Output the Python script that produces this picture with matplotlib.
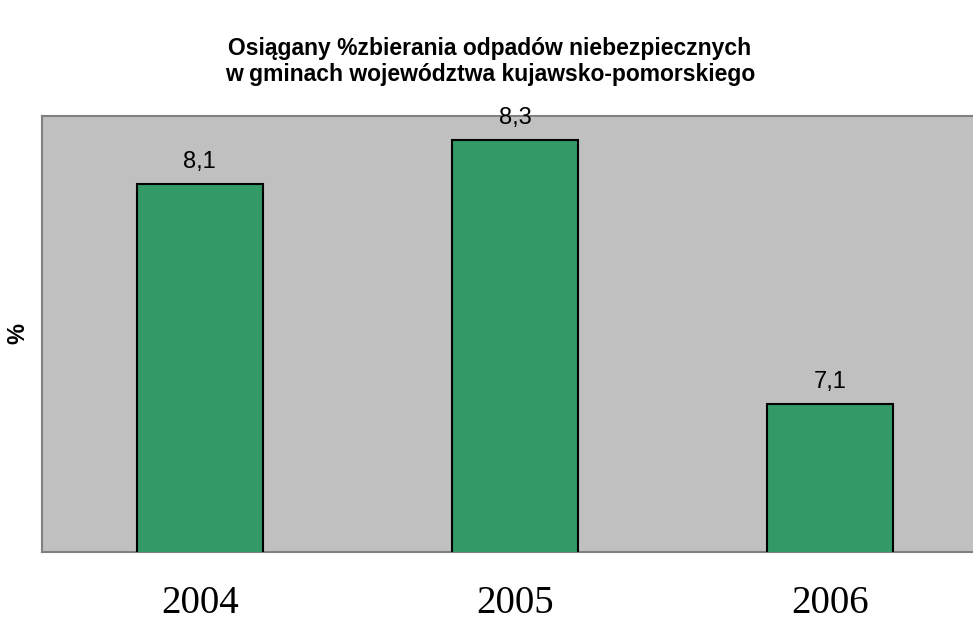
import matplotlib
matplotlib.use("Agg")
import matplotlib.pyplot as plt

years = ["2004", "2005", "2006"]
values = [8.1, 8.3, 7.1]
labels = ["8,1", "8,3", "7,1"]
title_lines = ["Osiągany %zbierania odpadów niebezpiecznych",
               "w gminach województwa kujawsko-pomorskiego"]

W, H = 973, 635
fig = plt.figure(figsize=(W/100, H/100), dpi=100)
ax = fig.add_axes([42/W, 1-552/H, 946/W, 436/H])
ax.set_facecolor("#C0C0C0")
x = list(range(len(years)))
ax.bar(x, values, width=0.4, color="#339966", edgecolor="black", linewidth=1.5, zorder=3)
ax.set_xlim(-0.5, 2.5)
ax.set_ylim(6.43, 8.41)
for xi, v, l in zip(x, values, labels):
    ax.annotate(l, (xi, v), xytext=(0, 12), textcoords="offset points",
                ha="center", va="baseline", fontsize=17, family="Liberation Sans",
                annotation_clip=False, zorder=4)
ax.set_xticks(x)
ax.set_xticklabels(years, family="Liberation Serif", fontsize=28)
ax.tick_params(axis="x", length=0, pad=24)
ax.set_yticks([])
for s in ["top", "left", "bottom"]:
    ax.spines[s].set_color("#808080")
    ax.spines[s].set_linewidth(1.5)
ax.spines["right"].set_visible(False)
fig.text(18/W, 1-334/H, "%", rotation=90, ha="center", va="center",
         family="Liberation Sans", fontweight="bold", fontsize=17)
for line, yb in zip(title_lines, [55, 81]):
    fig.text(490/W, 1-yb/H, line, ha="center", va="baseline", fontsize=16.5,
             fontweight="bold", family="Liberation Sans")
fig.savefig("out.png", dpi=100)
